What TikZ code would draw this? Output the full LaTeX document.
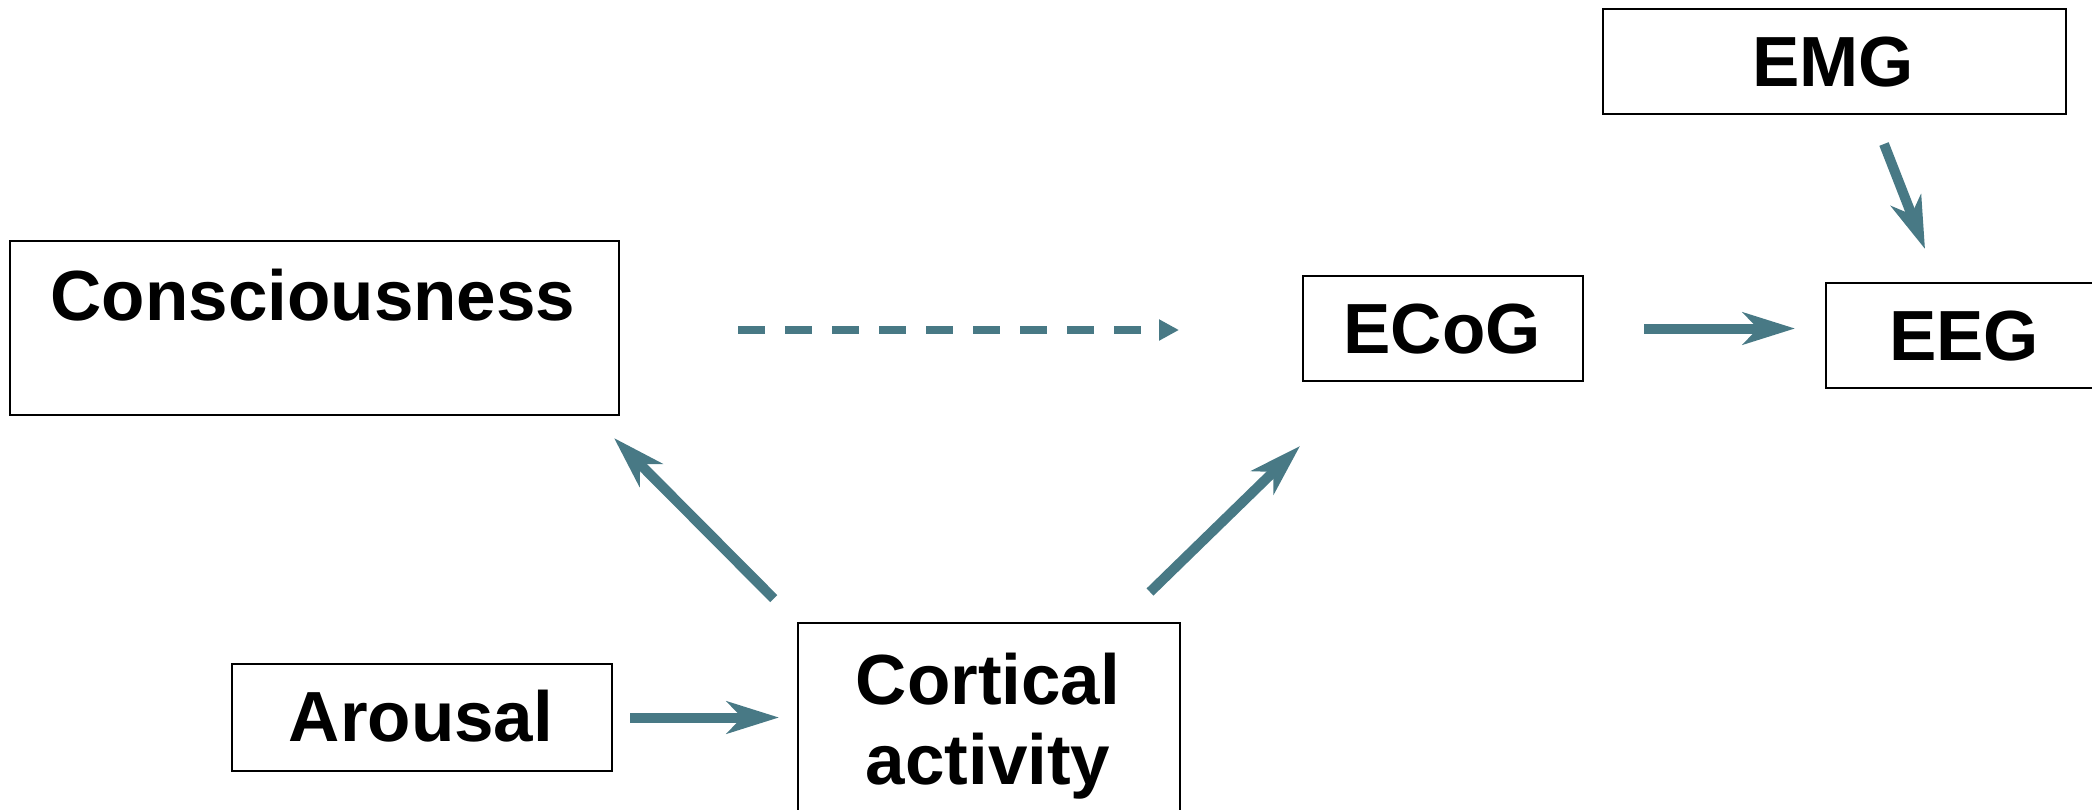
\documentclass[tikz,border=0pt]{standalone}
\usepackage{fontspec}
\setmainfont{Liberation Sans}
\usetikzlibrary{arrows.meta}
\definecolor{arrowteal}{RGB}{72,121,133}
\tikzset{
  box/.style={draw=black, line width=2pt, inner sep=0pt, anchor=north west},
  lbl/.style={inner sep=0pt, anchor=base, align=center,
    font=\fontsize{71}{80}\selectfont\bfseries},
  flow/.style={draw=arrowteal, line width=10pt,
    -{Stealth[length=52pt, width=32pt, inset=15pt]}},
  hint/.style={draw=arrowteal, line width=7.5pt, dash pattern=on 27pt off 20pt,
    -{Triangle[length=20pt, width=20pt]}}
}
\begin{document}
\begin{tikzpicture}[x=1pt, y=-1pt]
\useasboundingbox (0,0) rectangle (2092,809);
\clip (0,0) rectangle (2092,809);

% boxes
\node[box, minimum width=609pt, minimum height=174pt] (cons) at (9,240) {};
\node[box, minimum width=463pt, minimum height=105pt] (emg) at (1602,8) {};
\node[box, minimum width=280pt, minimum height=105pt] (ecog) at (1302,275) {};
\node[box, minimum width=280pt, minimum height=105pt] (eeg) at (1825,282) {};
\node[box, minimum width=380pt, minimum height=107pt] (arousal) at (231,663) {};
\node[box, minimum width=382pt, minimum height=200pt] (cort) at (797,622) {};

% labels
\node[lbl] (consT) at (313,320) {Consciousness};
\node[lbl] (emgT) at (1833,86) {EMG};
\node[lbl] (ecogT) at (1442,353) {ECoG};
\node[lbl] (eegT) at (1964,360) {EEG};
\node[lbl] (arousalT) at (421,741) {Arousal};
\node[lbl] (cortT) at (988,784) {Cortical\\activity};

% arrow ends
\coordinate (toCons) at (614,438);
\coordinate (fromCortR) at (1150,592);
\coordinate (toEcog) at (1300,446);
\coordinate (fromEmg) at (1884,144);
\coordinate (toEeg) at (1925,249);

% connectors
\draw[flow, shorten <=17pt, shorten >=18pt] (arousal.east) -- (cort.west |- arousal.east);
\draw[flow, shorten <=33pt] (cort.north west) -- (toCons);
\draw[flow] (fromCortR) -- (toEcog);
\draw[hint, shorten <=118pt, shorten >=123pt] ([yshift=-2pt]cons.east) -- ([yshift=-2pt]cons.east -| ecog.west);
\draw[flow, shorten <=60pt, shorten >=30pt] (ecog.east) -- (ecog.east -| eeg.west);
\draw[flow] (fromEmg) -- (toEeg);
\end{tikzpicture}
\end{document}
